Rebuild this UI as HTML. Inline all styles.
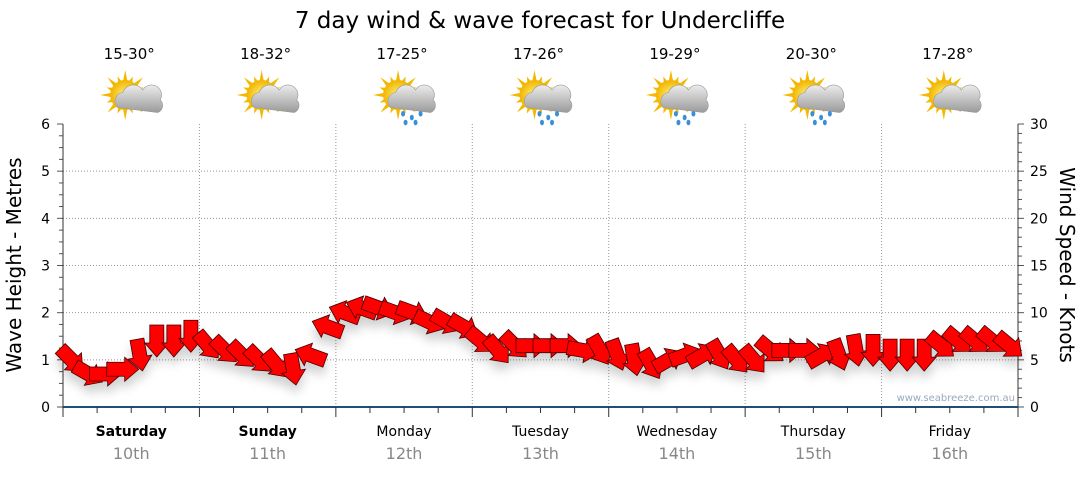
<!DOCTYPE html>
<html><head><meta charset="utf-8">
<style>
body{margin:0;background:#fff;}
svg{font-family:"DejaVu Sans","Liberation Sans",sans-serif;}
</style></head>
<body>
<svg id="chart" width="1080" height="475" viewBox="0 0 1080 475" xmlns="http://www.w3.org/2000/svg">
<defs>
<radialGradient id="sunG" cx="0.5" cy="0.5" r="0.5"><stop offset="0" stop-color="#fff27a"/><stop offset="1" stop-color="#f2b400"/></radialGradient>
<linearGradient id="cloudG" x1="0" y1="0" x2="0" y2="1"><stop offset="0" stop-color="#ececec"/><stop offset="1" stop-color="#9a9a9a"/></linearGradient>
<filter id="shadow" x="-20%" y="-20%" width="140%" height="160%"><feDropShadow dx="0" dy="8" stdDeviation="5" flood-color="#000" flood-opacity="0.18"/></filter>
</defs>
<text x="540" y="28" text-anchor="middle" font-size="23" fill="#000">7 day wind &amp; wave forecast for Undercliffe</text>
<g id="grid"></g>
<g id="axes"></g>
<g id="icons"></g>
<g id="arrows" filter="url(#shadow)"></g>
<text transform="translate(21,265) rotate(-90)" text-anchor="middle" font-size="20" fill="#000">Wave Height - Metres</text>
<text transform="translate(1060,265) rotate(90)" text-anchor="middle" font-size="20" fill="#000">Wind Speed - Knots</text>
<text x="1015" y="401" text-anchor="end" font-size="10" fill="#9ab">www.seabreeze.com.au</text>
</svg>
<script>
const days = ["Saturday","Sunday","Monday","Tuesday","Wednesday","Thursday","Friday"];
const dates = ["10th","11th","12th","13th","14th","15th","16th"];
const temps = ["15-30°","18-32°","17-25°","17-26°","19-29°","20-30°","17-28°"];
const rainy = [false,false,true,true,true,true,false];
const waveTicks = [0,1,2,3,4,5,6];
const windTicks = [0,5,10,15,20,25,30];
// wind speed knots, 3-hourly
const windSpeed = [5,3.5,3.5,4,5.5,7,7,7.5, 6.5,6,5.5,5,4.5,4,5.5,8.5, 10,10.5,10.5,10,10,9,9,8.5, 7,6,6.5,6.5,6.5,6.5,6,6, 5.5,5,4.5,5,5.5,5.5,5.5,5, 5,6,6,6,5.5,5.5,6,6, 5.5,5.5,5.5,6.5,7,7,7,6.5];
// arrow pointing direction, degrees (screen, 0 = right, 90 = down)
const windDir = [45,30,0,0,80,90,90,90, 50,45,45,45,50,80,200,200, 200,200,20,20,20,25,30,30, 40,50,45,0,0,0,10,60, 70,80,60,-30,-20,-30,60,50, 50,40,0,0,-30,70,80,90, 90,90,90,40,40,40,40,40];
const X0=63,X1=1018,Y0=407,Y1=124;
const NS="http://www.w3.org/2000/svg";
const dayW=(X1-X0)/7;
const xAt=i=>X0+(i+0.5)*(X1-X0)/windSpeed.length;
const yWave=v=>Y0-(v/6)*(Y0-Y1);
const yWind=v=>Y0-(v/30)*(Y0-Y1);
function mk(tag,attrs,parent){const e=document.createElementNS(NS,tag);for(const k in attrs)e.setAttribute(k,attrs[k]);parent.appendChild(e);return e;}
const grid=document.getElementById('grid'),axes=document.getElementById('axes'),icons=document.getElementById('icons'),arrows=document.getElementById('arrows');
waveTicks.forEach(t=>{if(t>0&&t<6){const l=mk('line',{x1:X0,x2:X1,y1:yWave(t),y2:yWave(t),stroke:'#999','stroke-dasharray':'1,2'},grid);}
 const tx=mk('text',{x:50,y:yWave(t)+5,'text-anchor':'end','font-size':14,fill:'#000'},axes);tx.textContent=t;});
windTicks.forEach(t=>{const tx=mk('text',{x:1030,y:yWind(t)+5,'font-size':14,fill:'#000'},axes);tx.textContent=t;});
for(let m=0;m<=24;m++){const y=Y0-m*(Y0-Y1)/24;mk('line',{x1:X0-(m%4==0?6:4),x2:X0,y1:y,y2:y,stroke:'#555'},axes);}
for(let m=0;m<=30;m++){const y=Y0-m*(Y0-Y1)/30;mk('line',{x1:X1,x2:X1+(m%5==0?6:4),y1:y,y2:y,stroke:'#555'},axes);}
mk('line',{x1:X0,x2:X0,y1:Y1,y2:Y0,stroke:'#333'},axes);
mk('line',{x1:X1,x2:X1,y1:Y1,y2:Y0,stroke:'#333'},axes);
mk('line',{x1:X0,x2:X1,y1:Y0,y2:Y0,stroke:'#1f4e79','stroke-width':2},axes);
for(let q=0;q<=28;q++){const x=X0+q*dayW/4;mk('line',{x1:x,x2:x,y1:Y0,y2:Y0+(q%4==0?10:6),stroke:'#333'},axes);}
days.forEach((d,i)=>{const cx=X0+(i+0.5)*dayW;
 if(i>0){const l=mk('line',{x1:X0+i*dayW,x2:X0+i*dayW,y1:Y1,y2:Y0,stroke:'#999','stroke-dasharray':'1,2'},grid);}
 const t1=mk('text',{x:cx,y:436,'text-anchor':'middle','font-size':14,fill:'#000','font-weight':i<2?'bold':'normal'},axes);t1.textContent=d;
 const t2=mk('text',{x:cx,y:459,'text-anchor':'middle','font-size':16,fill:'#888'},axes);t2.textContent=dates[i];
 const t3=mk('text',{x:cx-2,y:59,'text-anchor':'middle','font-size':15,fill:'#000'},icons);t3.textContent=temps[i];
 const g=mk('g',{transform:`translate(${cx-6},95) scale(1.25)`},icons);
 for(let r=0;r<16;r++){const a=r*Math.PI/8;const L=r%2?16:20;mk('polygon',{points:`${Math.cos(a)*L},${Math.sin(a)*L} ${Math.cos(a+0.2)*10},${Math.sin(a+0.2)*10} ${Math.cos(a-0.2)*10},${Math.sin(a-0.2)*10}`,fill:'#f4b800'},g);}
 mk('circle',{cx:0,cy:0,r:12,fill:'url(#sunG)'},g);
 mk('path',{d:'M-4,12 a7,7 0 0 1 4,-12 a9,9 0 0 1 16,-2 a8,8 0 0 1 14,8 a6,6 0 0 1 -2,10 z',fill:'url(#cloudG)',stroke:'#999','stroke-width':0.5,transform:'translate(-2,-2)'},g);
 if(rainy[i]){[[4,15],[11,18],[18,15],[14,22],[6,22]].forEach(p=>mk('ellipse',{cx:p[0],cy:p[1],rx:1.6,ry:2.2,fill:'#3a8fd8'},g));}
});
windSpeed.forEach((v,i)=>{const p=mk('polygon',{points:'-16,-7 2,-7 2,-12 16,0 2,12 2,7 -16,7',fill:'#ff0000',stroke:'#400','stroke-width':0.8,transform:`translate(${xAt(i)},${yWind(v)}) rotate(${windDir[i]})`},arrows);
 
 });
</script>
</body></html>
